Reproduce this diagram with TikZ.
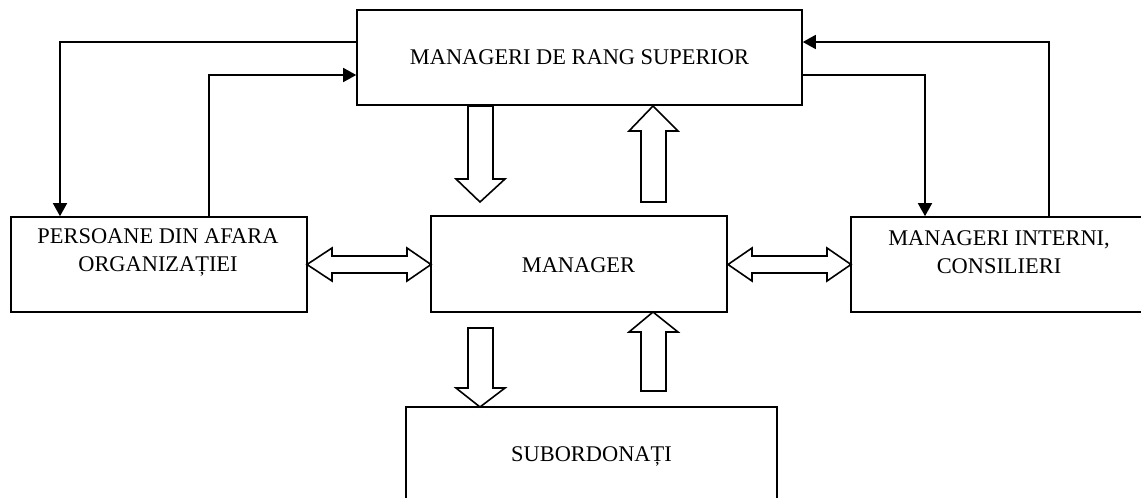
\documentclass[tikz,border=0pt]{standalone}
\usepackage{fontspec}
\setmainfont{Liberation Serif}
\usetikzlibrary{arrows.meta}
\begin{document}
\begin{tikzpicture}[x=1pt,y=-1pt,
  box/.style={draw, line width=1.6pt, minimum width=#1, minimum height=95pt, inner sep=0pt},
  lbl/.style={font=\fontsize{22.4}{28}\selectfont, align=center, inner sep=0pt},
  conn/.style={line width=1.6pt, -{Triangle[length=13pt,width=14pt]}},
  blk/.style={draw, line width=1.6pt, fill=white, line join=miter}]
\useasboundingbox (0,0) rectangle (1141,498);
% boxes
\node[box=445pt] (top) at (579.5,57.5) {};
\node[box=296pt] (left) at (159,264.5) {};
\node[box=296pt, minimum height=96pt] (mgr) at (579,264) {};
\node[box=296pt] (right) at (999,264.5) {};
\node[box=371pt] (sub) at (591.5,454.5) {};
% texts
\node[lbl] (topT) at (579.5,57) {MANAGERI DE RANG SUPERIOR};
\node[lbl] (leftT) at (158,252) {PERSOANE DIN AFARA\\ORGANIZAȚIEI};
\node[lbl] (mgrT) at (578.5,265) {MANAGER};
\node[lbl] (rightT) at (999,252) {MANAGERI INTERNI,\\CONSILIERI};
\node[lbl] (subT) at (591.5,456) {SUBORDONAȚI};
% thin connectors
\draw[conn] (top.west |- 0,42) -- (60,42) -- (left.north -| 60,0);
\draw[conn] (left.north -| 209,0) -- (209,75) -- (top.west |- 0,75);
\draw[conn] (top.east |- 0,75) -- (925,75) -- (right.north -| 925,0);
\draw[conn] (right.north -| 1049,0) -- (1049,42) -- (top.east |- 0,42);
% block arrows
\draw[blk] (468,106) -- (493,106) -- (493,179) -- (505,179) -- (480,202) -- (456,179) -- (468,179) -- cycle;
\draw[blk] (641,202) -- (666,202) -- (666,131) -- (678,131) -- (653,106) -- (629,131) -- (641,131) -- cycle;
\draw[blk] (468,328) -- (493,328) -- (493,388) -- (505,388) -- (480,407) -- (456,388) -- (468,388) -- cycle;
\draw[blk] (641,391) -- (666,391) -- (666,332) -- (678,332) -- (653,312) -- (629,332) -- (641,332) -- cycle;
\draw[blk] (307,264.5) -- (332,248) -- (332,256) -- (407,256) -- (407,248) -- (431,264.5) -- (407,281) -- (407,273) -- (332,273) -- (332,281) -- cycle;
\draw[blk] (728,264.5) -- (752,248) -- (752,256) -- (827,256) -- (827,248) -- (851,264.5) -- (827,281) -- (827,273) -- (752,273) -- (752,281) -- cycle;
\end{tikzpicture}
\end{document}
